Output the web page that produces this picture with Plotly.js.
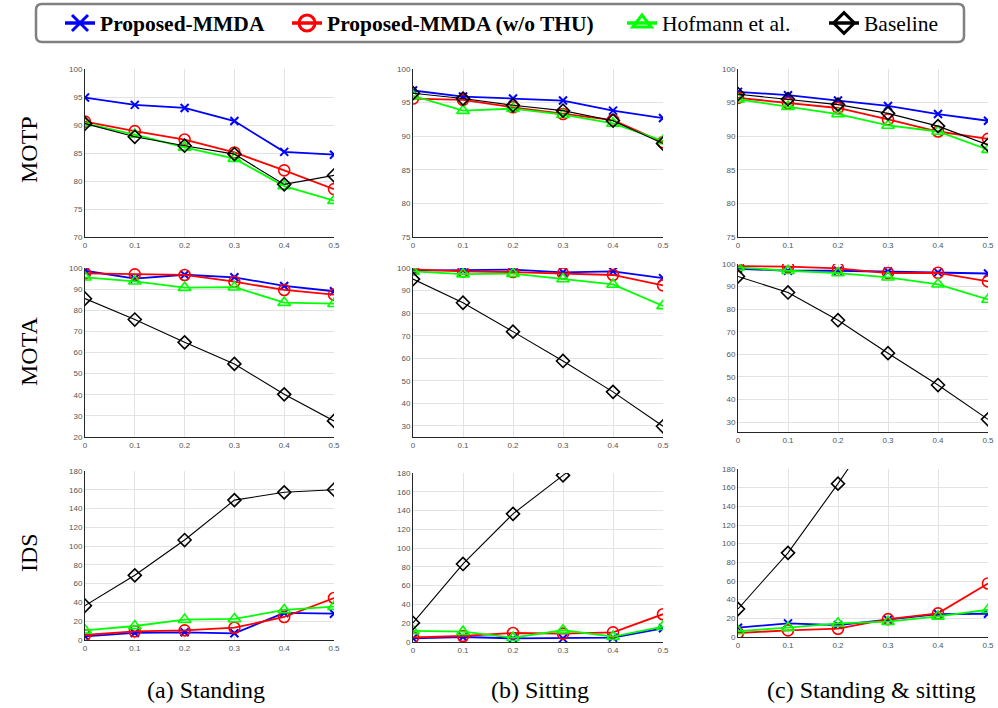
<!DOCTYPE html>
<html>
<head>
<meta charset="utf-8">
<script src="https://cdn.plot.ly/plotly-3.0.1.min.js"></script>
<style>html,body{margin:0;padding:0;background:#fff;}#chart{width:998px;height:708px;}</style>
</head>
<body>
<div id="chart"></div>
<script>
// ---------- data ----------
const noiseLevels = [0, 0.1, 0.2, 0.3, 0.4, 0.5];
const xTickLabels = ['0', '0.1', '0.2', '0.3', '0.4', '0.5'];
const methodNames = ['<b>Proposed-MMDA</b>', '<b>Proposed-MMDA (w/o THU)</b>', 'Hofmann et al.', 'Baseline'];
const rowTitles = ['MOTP', 'MOTA', 'IDS'];
const colTitles = ['(a) Standing', '(b) Sitting', '(c) Standing &amp; sitting'];

// MOTP
const motpStandingMMDA   = [94.9, 93.6, 93.05, 90.7, 85.2, 84.7];
const motpStandingNoTHU  = [90.6, 88.9, 87.4, 85.1, 81.9, 78.55];
const motpStandingHof    = [90.3, 88.3, 86.0, 84.0, 79.1, 76.5];
const motpStandingBase   = [90.25, 87.9, 86.3, 84.8, 79.4, 81.0];

const motpSittingMMDA    = [96.8, 95.9, 95.6, 95.3, 93.8, 92.7];
const motpSittingNoTHU   = [95.6, 95.4, 94.3, 93.3, 92.4, 89.1];
const motpSittingHof     = [96.0, 93.8, 94.1, 93.2, 91.9, 89.3];
const motpSittingBase    = [96.4, 95.6, 94.6, 93.8, 92.3, 88.9];

const motpBothMMDA       = [96.6, 96.1, 95.3, 94.5, 93.3, 92.3];
const motpBothNoTHU      = [95.7, 94.9, 94.2, 92.5, 90.7, 89.6];
const motpBothHof        = [95.5, 94.4, 93.3, 91.6, 90.7, 88.0];
const motpBothBase       = [96.25, 95.5, 94.7, 93.4, 91.5, 88.7];

// MOTA
const motaStandingMMDA   = [98.7, 95.0, 96.8, 95.6, 91.5, 89.0];
const motaStandingNoTHU  = [97.5, 97.0, 96.7, 93.5, 89.6, 87.4];
const motaStandingHof    = [95.6, 93.7, 90.7, 90.9, 83.6, 83.1];
const motaStandingBase   = [85.5, 75.6, 64.8, 54.6, 40.2, 27.6];

const motaSittingMMDA    = [98.8, 99.0, 99.3, 98.1, 98.5, 95.5];
const motaSittingNoTHU   = [99.4, 98.5, 98.2, 97.6, 96.9, 92.3];
const motaSittingHof     = [98.5, 97.3, 97.5, 95.1, 92.7, 83.2];
const motaSittingBase    = [95.1, 84.6, 71.8, 58.8, 45.1, 29.85];

const motaBothMMDA       = [97.9, 97.0, 97.0, 96.7, 96.3, 95.8];
const motaBothNoTHU      = [99.1, 98.8, 98.1, 96.0, 96.1, 92.3];
const motaBothHof        = [98.5, 97.0, 96.0, 94.1, 91.0, 84.3];
const motaBothBase       = [94.5, 87.4, 75.1, 60.5, 46.4, 31.2];

// IDS
const idsStandingMMDA    = [3.9, 7.5, 8.2, 7.1, 28.8, 28.0];
const idsStandingNoTHU   = [5.3, 9.2, 10.3, 13.1, 24.5, 44.7];
const idsStandingHof     = [10.3, 14.9, 21.7, 22.4, 32.0, 35.5];
const idsStandingBase    = [36.6, 68.9, 106.5, 149.0, 157.3, 160.1];

const idsSittingMMDA     = [3.9, 5.3, 3.9, 3.9, 4.6, 14.6];
const idsSittingNoTHU    = [5.0, 6.4, 9.6, 8.9, 10.3, 29.6];
const idsSittingHof      = [11.8, 11.0, 4.6, 12.5, 5.7, 16.4];
const idsSittingBase     = [20.3, 83.1, 136.5, 177.5, 215, 240];

const idsBothMMDA        = [10.0, 14.6, 12.8, 18.5, 24.6, 24.9];
const idsBothNoTHU       = [4.3, 7.1, 8.9, 19.2, 25.3, 57.4];
const idsBothHof         = [6.4, 10.0, 14.6, 16.4, 22.1, 29.2];
const idsBothBase        = [30.0, 90.2, 164.3, 243, 300, 340];

// ---------- styling ----------
const W = 998, H = 708;
const colors = ['#0000ff', '#ff0000', '#00ff00', '#000000'];
const symbols = ['x-thin', 'circle-open', 'triangle-up-open', 'diamond-open'];
const msizes = [8, 11, 11, 10];
const lwidths = [1.8, 1.8, 1.8, 1.1];
const legendIds = ['legend', 'legend2', 'legend3', 'legend4'];
const legendTextStart = [100, 327, 662, 864];

const panels = [
  [[motpStandingMMDA, motpStandingNoTHU, motpStandingHof, motpStandingBase],
   [motpSittingMMDA, motpSittingNoTHU, motpSittingHof, motpSittingBase],
   [motpBothMMDA, motpBothNoTHU, motpBothHof, motpBothBase]],
  [[motaStandingMMDA, motaStandingNoTHU, motaStandingHof, motaStandingBase],
   [motaSittingMMDA, motaSittingNoTHU, motaSittingHof, motaSittingBase],
   [motaBothMMDA, motaBothNoTHU, motaBothHof, motaBothBase]],
  [[idsStandingMMDA, idsStandingNoTHU, idsStandingHof, idsStandingBase],
   [idsSittingMMDA, idsSittingNoTHU, idsSittingHof, idsSittingBase],
   [idsBothMMDA, idsBothNoTHU, idsBothHof, idsBothBase]]
];

const yRanges = [
  [[70, 100], [75, 100], [75, 100]],
  [[20, 100], [25.1, 100], [25.6, 100]],
  [[0, 180], [0, 180], [0, 180]]
];
const yTicks = [
  [[70,75,80,85,90,95,100],[75,80,85,90,95,100],[75,80,85,90,95,100]],
  [[20,30,40,50,60,70,80,90,100],[30,40,50,60,70,80,90,100],[30,40,50,60,70,80,90,100]],
  [[0,20,40,60,80,100,120,140,160,180],[0,20,40,60,80,100,120,140,160,180],[0,20,40,60,80,100,120,140,160,180]]
];
const rowPx = [
  [[69,237],[69,237],[69,237]],
  [[268,437],[268,437],[264,432]],
  [[471,640],[473,642],[469,637]]
];
const colPx = [[85,334],[413,663],[738,988]];

const traces = [];
const layout = {
  width: W, height: H,
  margin: {l: 0, r: 0, t: 0, b: 0},
  paper_bgcolor: '#ffffff',
  plot_bgcolor: '#ffffff',
  showlegend: true,
  annotations: [],
  shapes: []
};
legendIds.forEach((id, i) => {
  layout[id] = {
    orientation: 'h',
    x: (legendTextStart[i] - 40) / W, xanchor: 'left',
    y: 1 - 23 / H, yanchor: 'middle',
    font: {family: 'Liberation Serif, Times New Roman, serif', size: 21.5, color: '#000'},
    bgcolor: 'rgba(0,0,0,0)',
    borderwidth: 0
  };
});

// legend-only entries (no data points)
for (let m = 0; m < 4; m++) {
  traces.push({
    type: 'scatter', mode: 'lines+markers',
    x: [null], y: [null], xaxis: 'x', yaxis: 'y',
    name: methodNames[m], legend: legendIds[m], showlegend: true,
    line: {color: colors[m], width: 3.5},
    marker: {symbol: symbols[m], size: 16, color: colors[m],
             line: {color: colors[m], width: 3}}
  });
}

let idx = 0;
for (let r = 0; r < 3; r++) {
  for (let c = 0; c < 3; c++) {
    idx++;
    const sfx = idx === 1 ? '' : String(idx);
    const [top, bot] = rowPx[r][c];
    const [lft, rgt] = colPx[c];
    const tf = {family: 'Liberation Sans, Arial, sans-serif', size: 8, color: '#555555'};
    layout['xaxis' + sfx] = {
      domain: [lft / W, rgt / W], anchor: 'y' + sfx, range: [0, 0.5],
      tickvals: noiseLevels, ticktext: xTickLabels,
      showgrid: true, gridcolor: '#e3e3e3', gridwidth: 1,
      zeroline: false, showline: true, linecolor: '#262626', linewidth: 1,
      ticks: '', tickfont: tf, fixedrange: true
    };
    layout['yaxis' + sfx] = {
      domain: [1 - bot / H, 1 - top / H], anchor: 'x' + sfx, range: yRanges[r][c],
      tickvals: yTicks[r][c],
      showgrid: true, gridcolor: '#e3e3e3', gridwidth: 1,
      zeroline: false, showline: true, linecolor: '#262626', linewidth: 1,
      ticks: '', tickfont: tf, fixedrange: true
    };
    for (let m = 0; m < 4; m++) {
      traces.push({
        type: 'scatter', mode: 'lines+markers',
        x: noiseLevels, y: panels[r][c][m],
        xaxis: 'x' + sfx, yaxis: 'y' + sfx,
        name: methodNames[m],
        showlegend: false,
        line: {color: colors[m], width: lwidths[m]},
        marker: {symbol: symbols[m], size: msizes[m], color: colors[m],
                 line: {color: colors[m], width: m === 0 ? 2 : 1.6}},
        cliponaxis: true
      });
    }
  }
}

const rowCenters = [150, 352, 553];
rowTitles.forEach((t, i) => {
  layout.annotations.push({
    text: t, xref: 'paper', yref: 'paper',
    x: 29 / W, y: 1 - rowCenters[i] / H, xanchor: 'center', yanchor: 'middle',
    textangle: -90, showarrow: false,
    font: {family: 'Liberation Serif, Times New Roman, serif', size: 24, color: '#000'}
  });
});
const colCenters = [206, 540, 871];
colTitles.forEach((t, i) => {
  layout.annotations.push({
    text: t, xref: 'paper', yref: 'paper',
    x: colCenters[i] / W, y: 1 - 690 / H, xanchor: 'center', yanchor: 'middle',
    showarrow: false,
    font: {family: 'Liberation Serif, Times New Roman, serif', size: 24, color: '#000'}
  });
});

(function () {
  const x0 = 36 / W, x1 = 964 / W, y0 = 1 - 42 / H, y1 = 1 - 4 / H;
  const rx = 6 / W, ry = 6 / H;
  const p = `M ${x0 + rx} ${y1} L ${x1 - rx} ${y1} Q ${x1} ${y1} ${x1} ${y1 - ry} L ${x1} ${y0 + ry} Q ${x1} ${y0} ${x1 - rx} ${y0} L ${x0 + rx} ${y0} Q ${x0} ${y0} ${x0} ${y0 + ry} L ${x0} ${y1 - ry} Q ${x0} ${y1} ${x0 + rx} ${y1} Z`;
  layout.shapes.push({type: 'path', xref: 'paper', yref: 'paper', path: p,
    line: {color: '#808080', width: 2.5}, fillcolor: 'rgba(0,0,0,0)'});
})();

Plotly.newPlot('chart', traces, layout, {displayModeBar: false, staticPlot: true});
</script>
</body>
</html>
